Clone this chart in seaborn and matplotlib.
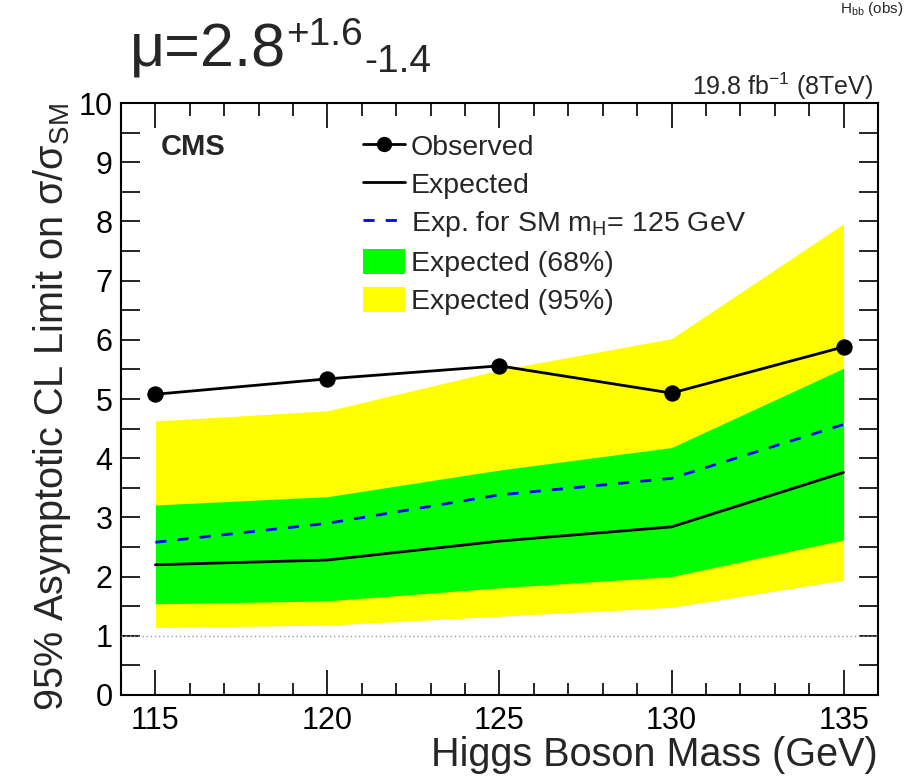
import matplotlib
matplotlib.use("Agg")
import matplotlib.pyplot as plt
import seaborn as sns
import pandas as pd
from matplotlib.lines import Line2D
from matplotlib.patches import Patch
from matplotlib.ticker import MultipleLocator

masses = [115, 120, 125, 130, 135]
observed = [5.08, 5.34, 5.56, 5.10, 5.88]
expected = [2.20, 2.28, 2.60, 2.84, 3.76]
expected_sm125 = [2.58, 2.90, 3.38, 3.66, 4.57]
band68_lo = [1.54, 1.59, 1.81, 2.00, 2.62]
band68_hi = [3.21, 3.35, 3.80, 4.18, 5.52]
band95_lo = [1.14, 1.18, 1.33, 1.48, 1.94]
band95_hi = [4.63, 4.80, 5.49, 6.02, 7.96]

df = pd.DataFrame({"mass": masses, "obs": observed, "exp": expected,
                   "sm": expected_sm125})

sns.set_theme(style="white")
plt.rcParams["font.family"] = ["Liberation Sans", "DejaVu Sans"]
plt.rcParams["mathtext.fontset"] = "custom"
plt.rcParams["mathtext.rm"] = "Liberation Sans"
plt.rcParams["mathtext.it"] = "Liberation Sans:italic"

W, H = 908, 776
fig = plt.figure(figsize=(W / 100, H / 100), dpi=100)
ax = fig.add_axes([121/W, 1-695/H, (878-121)/W, (695-103)/H])

ax.fill_between(masses, band95_lo, band95_hi, color="#ffff00", lw=0, zorder=1)
ax.fill_between(masses, band68_lo, band68_hi, color="#00ff00", lw=0, zorder=2)
ax.axhline(1.0, color="#999999", lw=1, ls=(0, (1, 2)), zorder=3)

sns.lineplot(data=df, x="mass", y="exp", ax=ax, color="black", lw=2, zorder=4)
sns.lineplot(data=df, x="mass", y="sm", ax=ax, color="#0000ff", lw=2,
             ls=(0, (4, 4)), zorder=4)
sns.lineplot(data=df, x="mass", y="obs", ax=ax, color="black", lw=2,
             marker="o", markersize=11, markeredgecolor="black", zorder=5)

ax.set_xlim(114, 136)
ax.set_ylim(0, 10)
ax.xaxis.set_major_locator(MultipleLocator(5))
ax.xaxis.set_minor_locator(MultipleLocator(1))
ax.yaxis.set_major_locator(MultipleLocator(1))
ax.yaxis.set_minor_locator(MultipleLocator(0.5))
ax.tick_params(which="both", direction="in", top=True, right=True,
               bottom=True, left=True, colors="black", width=1.2)
ax.tick_params(axis="x", which="major", length=18, labelsize=22, pad=8)
ax.tick_params(axis="x", which="minor", length=9)
ax.tick_params(axis="y", which="major", length=14, labelsize=22, pad=6)
ax.tick_params(axis="y", which="minor", length=14)
for s in ax.spines.values():
    s.set_color("black")
    s.set_linewidth(1.5)

ax.set_xlabel("Higgs Boson Mass (GeV)", fontsize=28.5, ha="right", x=1.0,
              labelpad=0)
ax.set_ylabel(r"95% Asymptotic CL Limit on σ/σ$_{\mathrm{SM}}$",
              fontsize=28.5, ha="right", y=1.0, labelpad=4)

ax.text(0.052, 0.925, "CMS", transform=ax.transAxes, fontsize=21,
        fontweight="bold", va="center", ha="left")

fig.text(873/W, 1-95/H, r"19.8 fb$^{-1}$ (8TeV)", fontsize=18,
         ha="right", va="baseline")

fig.text(130/W, 1-66/H, "μ=2.8", fontsize=44, ha="left", va="baseline")
fig.text(286/W, 1-45/H, "+1.6", fontsize=28, ha="left", va="baseline")
fig.text(364/W, 1-72/H, "-1.4", fontsize=28, ha="left", va="baseline")

fig.text(903/W, 1-13/H, r"H$_{\mathrm{bb}}$ (obs)", fontsize=11,
         ha="right", va="baseline")

handles = [
    Line2D([], [], color="black", lw=2, marker="o", markersize=10),
    Line2D([], [], color="black", lw=2),
    Line2D([], [], color="#0000ff", lw=2, ls=(0, (4, 4))),
    Patch(facecolor="#00ff00", edgecolor="none"),
    Patch(facecolor="#ffff00", edgecolor="none"),
]
labels = ["Observed", "Expected", r"Exp. for SM m$_{\mathrm{H}}$= 125 GeV",
          "Expected (68%)", "Expected (95%)"]
leg = ax.legend(handles, labels, loc="upper left",
                bbox_to_anchor=(363/W, 1-133/H),
                bbox_transform=fig.transFigure, frameon=False, fontsize=20.5,
                handlelength=1.47, handleheight=1.0, handletextpad=0.2,
                labelspacing=0.33, borderaxespad=0, borderpad=0)

fig.savefig("out.png", dpi=100)
